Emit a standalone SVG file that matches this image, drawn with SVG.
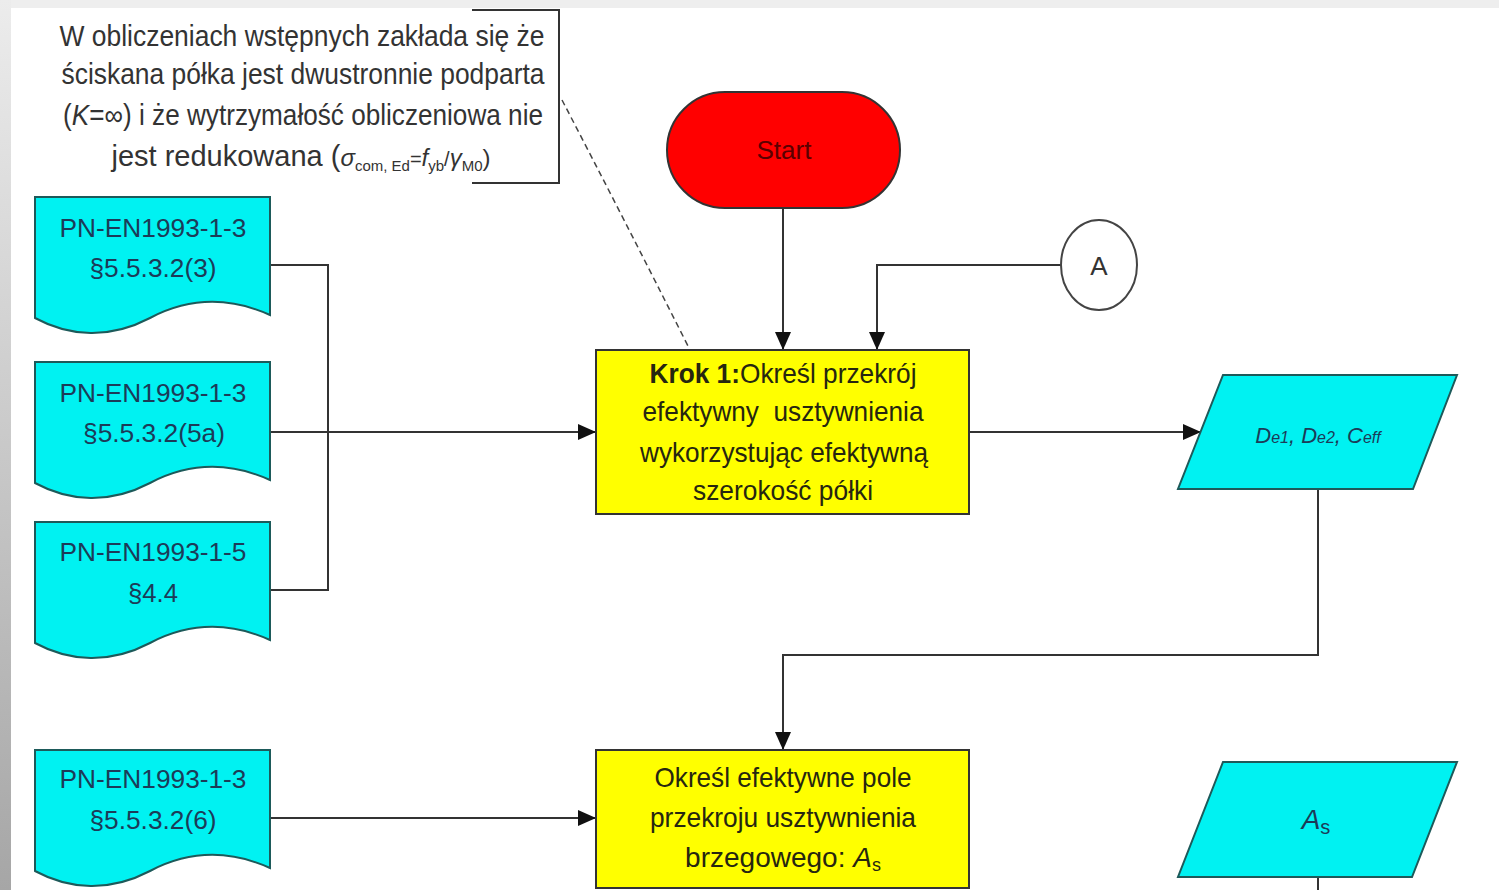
<svg xmlns="http://www.w3.org/2000/svg" width="1499" height="890" viewBox="0 0 1499 890">
  <defs>
    <linearGradient id="edgeShade" x1="0" y1="0" x2="0" y2="1">
      <stop offset="0" stop-color="#ececec"/>
      <stop offset="1" stop-color="#a6a6a6"/>
    </linearGradient>
    <marker id="arrow" markerUnits="userSpaceOnUse" markerWidth="18" markerHeight="16" refX="17" refY="8" orient="auto">
      <path d="M0,0 L18,8 L0,16 Z" fill="#111"/>
    </marker>
    <!-- document (wavy bottom) shape, top edge at y=0 -->
    <path id="docShape" d="M35,0 H270 V118 C230,100 190,100 150,121 C110,142 70,140 35,121 Z"/>
  </defs>
  <style>
    .doc { fill: #00f2f2; stroke: #1d5a5a; stroke-width: 2; }
    .docText { font-family: "Liberation Sans", Arial, sans-serif; font-size: 26px; fill: #1c3b58; text-anchor: middle; }
    .proc { fill: #ffff00; stroke: #333; stroke-width: 2; }
    .procText { font-family: "Liberation Sans", Arial, sans-serif; font-size: 28px; fill: #262610; text-anchor: middle; }
    .note { font-family: "Liberation Sans", Arial, sans-serif; font-size: 29px; fill: #333; text-anchor: middle; }
    .io { fill: #00f2f2; stroke: #1d5a5a; stroke-width: 2; }
    .ioText { font-family: "Liberation Sans", Arial, sans-serif; font-style: italic; fill: #1c3b58; text-anchor: middle; }
    .conn { fill: none; stroke: #333; stroke-width: 2; }
  </style>

  <!-- page background -->
  <rect x="0" y="0" width="1499" height="890" fill="#ffffff"/>
  <rect x="0" y="0" width="1499" height="8" fill="#eeeeee"/>
  <rect x="0" y="0" width="11" height="890" fill="url(#edgeShade)"/>

  <!-- connectors -->
  <g id="connectors">
    <path class="conn" d="M270,265 H328 V590 H270"/>
    <path class="conn" d="M270,432 H595" marker-end="url(#arrow)"/>
    <path class="conn" d="M270,818 H595" marker-end="url(#arrow)"/>
    <path class="conn" d="M783,208 V349" marker-end="url(#arrow)"/>
    <path class="conn" d="M1061,265 H877 V349" marker-end="url(#arrow)"/>
    <path class="conn" d="M969,432 H1200" marker-end="url(#arrow)"/>
    <path class="conn" d="M1318,489 V655 H783 V749" marker-end="url(#arrow)"/>
    <path class="conn" d="M1318,877 V890"/>
    <path d="M562,100 Q622,215 690,350" fill="none" stroke="#444" stroke-width="1.5" stroke-dasharray="6,4"/>
  </g>

  <!-- annotation -->
  <g id="note">
    <path d="M472,10 H559 V183 H472" fill="none" stroke="#333" stroke-width="2"/>
    <text class="note" x="302" y="46" textLength="485" lengthAdjust="spacingAndGlyphs">W obliczeniach wstępnych zakłada się że</text>
    <text class="note" x="303" y="84" textLength="483" lengthAdjust="spacingAndGlyphs">ściskana półka jest dwustronnie podparta</text>
    <text class="note" x="303" y="125" textLength="480" lengthAdjust="spacingAndGlyphs">(<tspan font-style="italic">K</tspan>=∞) i że wytrzymałość obliczeniowa nie</text>
    <text class="note" x="301" y="166" font-size="26">jest redukowana (<tspan font-style="italic" font-size="24">σ</tspan><tspan font-size="15" dy="5">com, Ed</tspan><tspan font-size="20" dy="-5">=</tspan><tspan font-style="italic" font-size="24">f</tspan><tspan font-size="15" dy="5">yb</tspan><tspan font-size="20" dy="-5">/</tspan><tspan font-style="italic" font-size="24">γ</tspan><tspan font-size="15" dy="5">M0</tspan><tspan font-size="24" dy="-5">)</tspan></text>
  </g>

  <!-- reference documents -->
  <g id="doc1">
    <use href="#docShape" class="doc" transform="translate(0,197)"/>
    <text class="docText" x="153" y="237" textLength="187" lengthAdjust="spacingAndGlyphs">PN-EN1993-1-3</text>
    <text class="docText" x="153" y="277" textLength="127" lengthAdjust="spacingAndGlyphs">§5.5.3.2(3)</text>
  </g>
  <g id="doc2">
    <use href="#docShape" class="doc" transform="translate(0,362)"/>
    <text class="docText" x="153" y="402" textLength="187" lengthAdjust="spacingAndGlyphs">PN-EN1993-1-3</text>
    <text class="docText" x="154" y="442" textLength="142" lengthAdjust="spacingAndGlyphs">§5.5.3.2(5a)</text>
  </g>
  <g id="doc3">
    <use href="#docShape" class="doc" transform="translate(0,522)"/>
    <text class="docText" x="153" y="561" textLength="187" lengthAdjust="spacingAndGlyphs">PN-EN1993-1-5</text>
    <text class="docText" x="153" y="602" textLength="50" lengthAdjust="spacingAndGlyphs">§4.4</text>
  </g>
  <g id="doc4">
    <use href="#docShape" class="doc" transform="translate(0,750)"/>
    <text class="docText" x="153" y="788" textLength="187" lengthAdjust="spacingAndGlyphs">PN-EN1993-1-3</text>
    <text class="docText" x="153" y="829" textLength="127" lengthAdjust="spacingAndGlyphs">§5.5.3.2(6)</text>
  </g>

  <!-- start terminal -->
  <g id="start">
    <rect x="667" y="92" width="233" height="116" rx="58" ry="58" fill="#ff0000" stroke="#333" stroke-width="2"/>
    <text x="784" y="159" font-family="Liberation Sans, Arial, sans-serif" font-size="25" fill="#5a0000" text-anchor="middle" textLength="55" lengthAdjust="spacingAndGlyphs">Start</text>
  </g>

  <!-- off-page connector A -->
  <g id="connectorA">
    <ellipse cx="1099" cy="265" rx="38" ry="45" fill="#ffffff" stroke="#444" stroke-width="2"/>
    <text x="1099" y="275" font-family="Liberation Sans, Arial, sans-serif" font-size="26" fill="#333" text-anchor="middle">A</text>
  </g>

  <!-- step 1 -->
  <g id="step1">
    <rect class="proc" x="596" y="350" width="373" height="164"/>
    <text class="procText" x="783" y="383" textLength="267" lengthAdjust="spacingAndGlyphs"><tspan font-weight="bold">Krok 1:</tspan>Określ przekrój</text>
    <text class="procText" x="783" y="421" textLength="281" lengthAdjust="spacingAndGlyphs" xml:space="preserve">efektywny  usztywnienia</text>
    <text class="procText" x="784" y="462" textLength="288" lengthAdjust="spacingAndGlyphs">wykorzystując efektywną</text>
    <text class="procText" x="783" y="500" textLength="180" lengthAdjust="spacingAndGlyphs">szerokość półki</text>
  </g>

  <!-- output 1 -->
  <g id="out1">
    <polygon class="io" points="1223,375 1457,375 1413,489 1178,489"/>
    <text class="ioText" x="1318" y="443" font-size="22">D<tspan font-size="16">e1</tspan>, D<tspan font-size="16">e2</tspan>, C<tspan font-size="16">eff</tspan></text>
  </g>

  <!-- step 2 -->
  <g id="step2">
    <rect class="proc" x="596" y="750" width="373" height="138"/>
    <text class="procText" x="783" y="787" textLength="257" lengthAdjust="spacingAndGlyphs">Określ efektywne pole</text>
    <text class="procText" x="783" y="827" textLength="266" lengthAdjust="spacingAndGlyphs">przekroju usztywnienia</text>
    <text class="procText" x="783" y="867" font-size="27">brzegowego: <tspan font-style="italic">A</tspan><tspan font-size="18" dy="4">s</tspan></text>
  </g>

  <!-- output 2 -->
  <g id="out2">
    <polygon class="io" points="1223,762 1457,762 1412,877 1178,877"/>
    <text class="ioText" x="1316" y="829" font-size="28">A<tspan font-size="20" font-style="normal" dy="5">s</tspan></text>
  </g>
</svg>
